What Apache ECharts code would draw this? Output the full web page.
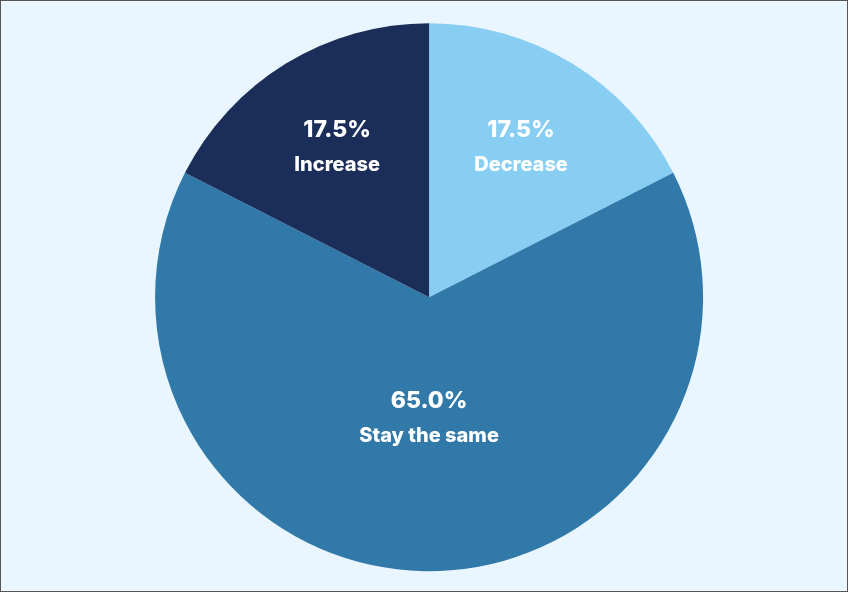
<!DOCTYPE html>
<html>
<head>
  <meta charset="utf-8">
  <script src="https://cdn.jsdelivr.net/npm/echarts@6.0.0/dist/echarts.min.js"></script>
  <style>
    html, body { margin: 0; padding: 0; background: #eaf6ff; }
    #chart { width: 848px; height: 592px; box-sizing: border-box; border: 1px solid #555; }
  </style>
</head>
<body>
  <div id="chart"></div>
  <script>
    // data
    var categories = ['Decrease', 'Stay the same', 'Increase'];
    var shares = [17.5, 65.0, 17.5];
    var colors = ['#87cef2', '#3079a9', '#1b2d59'];
    // which label ring each slice uses: 'outer' for the small slices, 'inner' for the big one
    var labelRing = ['outer', 'inner', 'outer'];

    var chart = echarts.init(document.getElementById('chart'));

    var center = ['50.6%', '50.2%'];

    function sliceData(withColor) {
      return categories.map(function (name, i) {
        return {
          name: name,
          value: shares[i],
          itemStyle: withColor ? { color: colors[i] } : { color: 'transparent' }
        };
      });
    }

    var labelStyle = {
      show: true,
      position: 'inside',
      formatter: function (p) {
        return '{p|' + p.value.toFixed(1) + '%}\n{n|' + p.name + '}';
      },
      rich: {
        p: { fontFamily: 'Inter', fontWeight: 800, fontSize: 23, color: '#fff', lineHeight: 36 },
        n: { fontFamily: 'Inter', fontWeight: 800, fontSize: 20, color: '#fff', lineHeight: 34 }
      }
    };

    // transparent copies of the pie, only used to place labels
    function labelPie(ring, radius) {
      return {
        type: 'pie',
        center: center,
        radius: radius,
        startAngle: 90,
        clockwise: true,
        silent: true,
        animation: false,
        labelLine: { show: false },
        data: sliceData(false).map(function (d, i) {
          d.label = { show: labelRing[i] === ring };
          return d;
        }),
        label: labelStyle
      };
    }

    var option = {
      backgroundColor: '#eaf6ff',
      series: [
        {
          type: 'pie',
          center: center,
          radius: [0, 274],
          startAngle: 90,
          clockwise: true,
          animation: false,
          label: { show: false },
          labelLine: { show: false },
          itemStyle: { borderWidth: 0 },
          data: sliceData(true)
        },
        labelPie('outer', [72, 274]),
        labelPie('inner', [0, 236])
      ]
    };

    chart.setOption(option);
  </script>
</body>
</html>
